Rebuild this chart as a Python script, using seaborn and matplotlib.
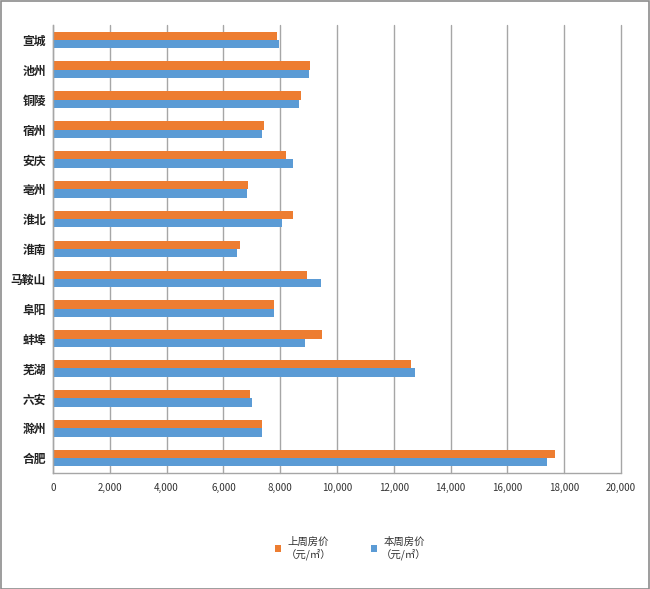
import matplotlib
matplotlib.use("Agg")
import matplotlib.pyplot as plt
import seaborn as sns
import pandas as pd
from matplotlib.patches import Rectangle

cities = ["宣城", "池州", "铜陵", "宿州", "安庆", "亳州", "淮北", "淮南",
          "马鞍山", "阜阳", "蚌埠", "芜湖", "六安", "滁州", "合肥"]
last_week = [7890, 9050, 8720, 7430, 8190, 6870, 8440, 6570,
             8960, 7790, 9470, 12610, 6920, 7350, 17670]
this_week = [7950, 9000, 8660, 7360, 8440, 6840, 8050, 6480,
             9440, 7770, 8870, 12750, 7020, 7350, 17380]
series_names = ["上周房价\n（元/㎡）", "本周房价\n（元/㎡）"]
x_ticks = list(range(0, 20001, 2000))

df = pd.DataFrame({
    "city": cities * 2,
    "price": last_week + this_week,
    "series": [series_names[0]] * len(cities) + [series_names[1]] * len(cities),
})

sns.set_theme(style="white")
plt.rcParams["font.family"] = ["Noto Sans CJK SC", "DejaVu Sans"]

fig = plt.figure(figsize=(6.5, 5.89), dpi=100)
ax = fig.add_axes([53 / 650, 1 - 473 / 589, (621 - 53) / 650, (473 - 25) / 589])

sns.barplot(data=df, y="city", x="price", hue="series", orient="h",
            palette=["#ED7D31", "#5B9BD5"], width=0.56, ax=ax,
            saturation=1, edgecolor="none", legend=True)

ax.set_xlim(0, 20000)
ax.set_xticks(x_ticks)
ax.set_xticklabels([f"{v:,}" for v in x_ticks], fontsize=7, color="#333333")
ax.tick_params(axis="x", length=0, pad=7)
ax.tick_params(axis="y", length=0, pad=5)
for lab in ax.get_yticklabels():
    lab.set_fontsize(8.5)
    lab.set_fontweight("bold")
    lab.set_color("#222222")
ax.set_xlabel("")
ax.set_ylabel("")
ax.grid(axis="x", color="#a6a6a6", linewidth=1)
for gl in ax.get_xgridlines():
    gl.set_clip_on(False)
ax.set_axisbelow(True)
for side in ["top", "right"]:
    ax.spines[side].set_visible(False)
for side in ["left", "bottom"]:
    ax.spines[side].set_color("#a6a6a6")
    ax.spines[side].set_linewidth(1)

handles, labels = ax.get_legend_handles_labels()
ax.get_legend().remove()
leg = fig.legend(handles, labels, loc="center", bbox_to_anchor=(0.54, 1 - 548 / 589),
                 ncol=2, frameon=False, fontsize=7.5, handlelength=0.6, handleheight=0.6,
                 handletextpad=0.4, columnspacing=3.8)
for t in leg.get_texts():
    t.set_multialignment("center")
    t.set_color("#333333")

fig.patches.append(Rectangle((0.5 / 650, 0.5 / 589), 1 - 1.5 / 650, 1 - 1.5 / 589,
                             transform=fig.transFigure, fill=False,
                             edgecolor="#8c8c8c", linewidth=1.2))

fig.savefig("out.png", dpi=100)
